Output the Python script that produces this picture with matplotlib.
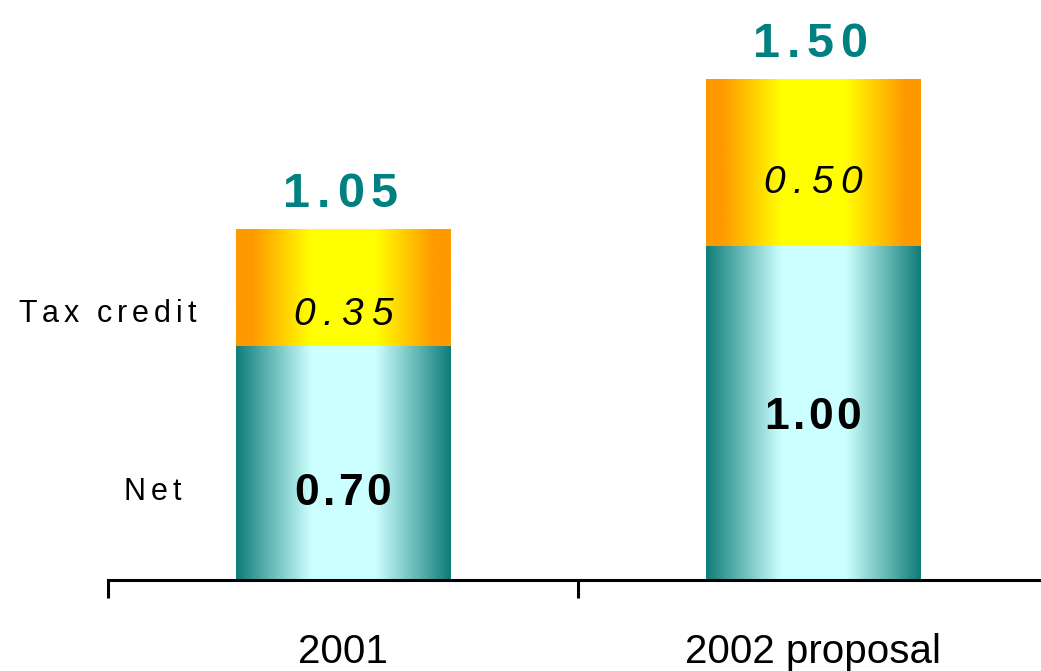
import numpy as np
import matplotlib
matplotlib.use("Agg")
import matplotlib.pyplot as plt
from matplotlib.font_manager import FontProperties, findfont, get_font

# values per year
years = ["2001", "2002 proposal"]
net = [0.70, 1.00]
credit = [0.35, 0.50]
series_names = ["Net", "Tax credit"]

FONT = "Liberation Sans"
TEAL = "#008080"


def gradient(edge, center, lo, hi):
    # horizontal strip: edge colour at both sides, center colour in the middle
    u = np.linspace(0, 1, 256)
    t = np.abs(u - 0.5) / 0.5
    m = np.clip((t - lo) / (hi - lo), 0, 1)
    e = np.array(matplotlib.colors.to_rgb(edge))
    c = np.array(matplotlib.colors.to_rgb(center))
    rgb = c[None, :] * (1 - m[:, None]) + e[None, :] * m[:, None]
    return rgb[None, :, :]


def tracked(ax, x, y, s, size, track, color="black", weight="normal", style="normal",
            dx=0, dy=0):
    # text with extra letter spacing (track in points), centered on (x, y)
    prop = FontProperties(family=FONT, size=size, weight=weight, style=style)
    font = get_font(findfont(prop))
    font.set_size(size, 72)
    adv = []
    for ch in s:
        g = font.load_char(ord(ch))
        adv.append(g.linearHoriAdvance / 65536)
    total = sum(adv) + track * (len(s) - 1)
    off = dx - total / 2
    cap = 0.716 * size
    for ch, a in zip(s, adv):
        ax.annotate(ch, (x, y), xytext=(off, dy - cap / 2), textcoords="offset points",
                    ha="left", va="baseline", fontproperties=prop, color=color,
                    annotation_clip=False)
        off += a + track


fig = plt.figure(figsize=(10.41, 6.71), dpi=100)
ax = fig.add_axes([108 / 1041, 91 / 671, 940 / 1041, 534.4 / 671])

x = np.arange(len(years))
width = 0.457
b1 = ax.bar(x, net, width, color="none")
b2 = ax.bar(x, credit, width, bottom=net, color="none")

teal_img = gradient("#0f7d78", "#ccffff", 0.3, 1.0)
orange_img = gradient("#ff9900", "#ffff00", 0.3, 0.85)
for bars, img in [(b1, teal_img), (b2, orange_img)]:
    for p in bars:
        x0, y0 = p.get_x(), p.get_y()
        ax.imshow(img, extent=[x0, x0 + p.get_width(), y0, y0 + p.get_height()],
                  aspect="auto", interpolation="bilinear", zorder=2)

ax.set_xlim(-0.5, len(years) - 0.5)
ax.set_ylim(0, 1.6)

# axis: only the bottom line with ticks between the categories
for side in ["left", "right", "top"]:
    ax.spines[side].set_visible(False)
ax.spines["bottom"].set_linewidth(2.2)
ax.spines["bottom"].set_zorder(3)
ax.set_yticks([])
ax.set_xticks(np.arange(len(years) + 1) - 0.5)
ax.set_xticklabels([])
ax.tick_params(axis="x", direction="out", length=13, width=2.2)

for i, name in enumerate(years):
    ax.annotate(name, (x[i], 0), xytext=(0, -60), textcoords="offset points",
                ha="center", va="baseline", fontsize=29, family=FONT,
                annotation_clip=False)

# height of the inside labels, as a fraction of each segment
net_pos = [0.39, 0.50]
credit_pos = [0.30, 0.40]

for i in range(len(years)):
    total = net[i] + credit[i]
    tracked(ax, x[i], net[i] * net_pos[i], f"{net[i]:.2f}", 32, 2.5,
            weight="bold")
    tracked(ax, x[i], net[i] + credit[i] * credit_pos[i], f"{credit[i]:.2f}", 28, 5.5,
            style="italic")
    tracked(ax, x[i], total, f"{total:.2f}", 35, 4.8, color=TEAL, weight="bold",
            dx=-2, dy=16 + 0.716 * 35 / 2)

# series names on the left, next to the first bar
tracked(ax, -0.5, net[0] + credit[0] * credit_pos[0], series_names[1], 22, 3.5,
        dx=-0.7)
tracked(ax, -0.5, net[0] * net_pos[0], series_names[0], 22, 3.5, dx=32)

fig.savefig("out.png", dpi=100)
